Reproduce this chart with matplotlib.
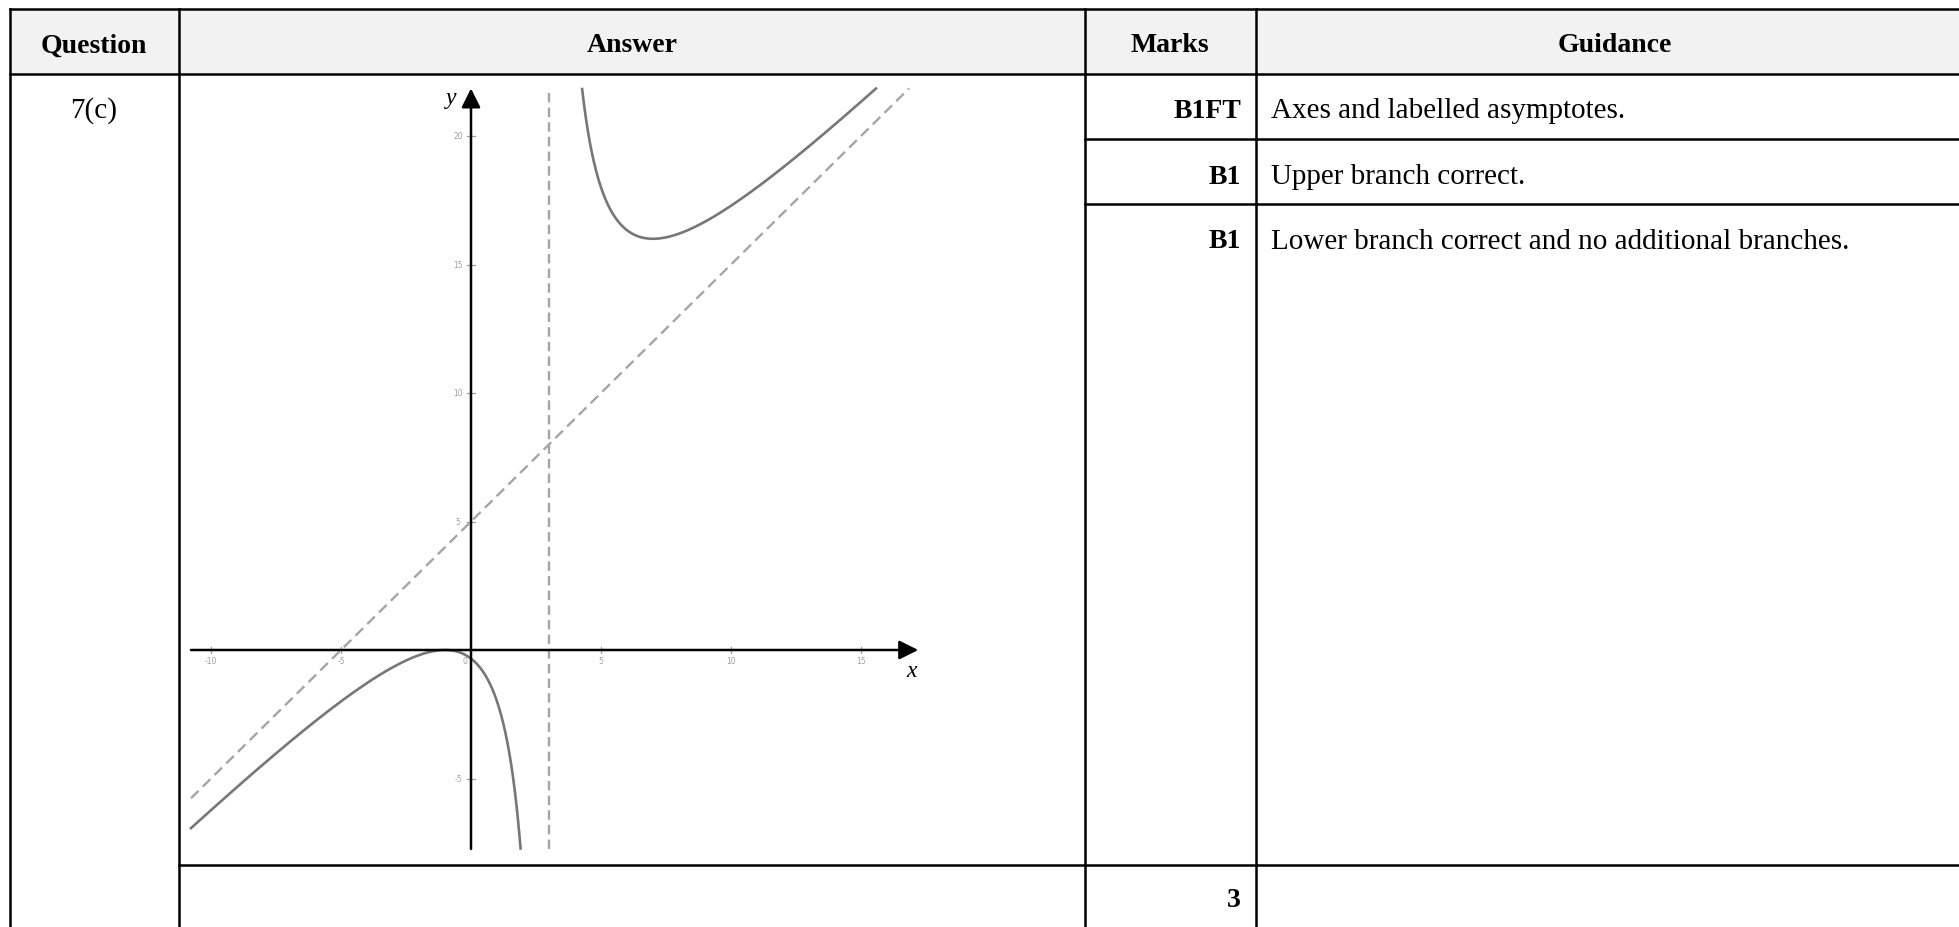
import numpy as np
import matplotlib
matplotlib.use("Agg")
import matplotlib.pyplot as plt

# ---- data ----
headers = ["Question", "Answer", "Marks", "Guidance"]
question = "7(c)"
marks = ["B1FT", "B1", "B1"]
guidance = ["Axes and labelled asymptotes.",
            "Upper branch correct.",
            "Lower branch correct and no additional branches."]
total_marks = "3"

# graph: y = m*x + c + k/(x - a)
vert_asym = 3.0
obl_slope = 1.0
obl_icpt = 5.0
k_const = 16.0
x_ticks = [-10, -5, 5, 10, 15]
y_ticks = [-5, 5, 10, 15, 20]
x_lo, x_hi = -10.77, 17.2
y_lo, y_hi = -7.74, 21.85

W, H = 1959, 928
fig = plt.figure(figsize=(W / 100, H / 100), dpi=100)
serif = ["Liberation Serif", "DejaVu Serif"]

# ---- table (pixel coordinates) ----
tab = fig.add_axes([0, 0, 1, 1])
tab.set_xlim(0, W)
tab.set_ylim(H, 0)
tab.axis("off")
cols = [10, 179, 1085, 1256]
top, hdr_bot = 10, 75
tab.fill_between([10, W], top, hdr_bot, color="#f2f2f2", zorder=0)
lw = 1.8
tab.plot([10, W], [top, top], color="black", lw=lw)
tab.plot([10, W], [hdr_bot, hdr_bot], color="black", lw=lw)
for yy in (140, 205):
    tab.plot([cols[2], W], [yy, yy], color="black", lw=lw)
tab.plot([cols[1], W], [866, 866], color="black", lw=lw)
for xx in cols:
    tab.plot([xx, xx], [top, H], color="black", lw=lw)

hdr_x = [94, 632, 1170, 1615]
for hx, h in zip(hdr_x, headers):
    tab.text(hx, 46, h, ha="center", va="center", fontsize=20,
             fontweight="bold", family=serif)
tab.text(94, 111, question, ha="center", va="center", fontsize=21, family=serif)
row_y = [111, 177, 242]
for ry, m, g in zip(row_y, marks, guidance):
    tab.text(1241, ry, m, ha="right", va="center", fontsize=20,
             fontweight="bold", family=serif)
    tab.text(1271, ry, g, ha="left", va="center", fontsize=21, family=serif)
tab.text(1241, 901, total_marks, ha="right", va="center", fontsize=20,
         fontweight="bold", family=serif)

# ---- graph ----
px_x0, px_unit_x = 471, 26.0
px_y0, px_unit_y = 651, 25.7
xl = (-11.0, 17.5)
yl = (-8.0, 22.5)
left = px_x0 + xl[0] * px_unit_x
right = px_x0 + xl[1] * px_unit_x
ptop = px_y0 - yl[1] * px_unit_y
pbot = px_y0 - yl[0] * px_unit_y
ax = fig.add_axes([left / W, 1 - pbot / H, (right - left) / W, (pbot - ptop) / H])
ax.set_xlim(*xl)
ax.set_ylim(*yl)
ax.axis("off")
ax.patch.set_alpha(0)

def f(x):
    return obl_slope * x + obl_icpt + k_const / (x - vert_asym)

curve_col = "#777777"
dash_col = "#a5a5a5"
# lower branch
xs = np.linspace(x_lo, vert_asym - 0.001, 3000)
ys = f(xs)
m = ys >= y_lo
ax.plot(xs[m], ys[m], color=curve_col, lw=1.9, zorder=3)
# upper branch
xs = np.linspace(vert_asym + 0.001, x_hi, 3000)
ys = f(xs)
m = ys <= y_hi
ax.plot(xs[m], ys[m], color=curve_col, lw=1.9, zorder=3)
# asymptotes
ax.plot([vert_asym, vert_asym], [y_lo, y_hi], color=dash_col, lw=1.7,
        dashes=(4, 2.2), zorder=2)
ox = np.array([x_lo, (y_hi - obl_icpt) / obl_slope])
ax.plot(ox, obl_slope * ox + obl_icpt, color=dash_col, lw=1.7,
        dashes=(4.5, 2.5), zorder=2)

# axes with arrows
astyle = "-|>,head_length=0.72,head_width=0.36"
ax.annotate("", xy=(x_hi, 0), xytext=(x_lo, 0),
            arrowprops=dict(arrowstyle=astyle, mutation_scale=16,
                            lw=1.8, color="black", shrinkA=0, shrinkB=0),
            zorder=4)
ax.annotate("", xy=(0, y_hi), xytext=(0, y_lo),
            arrowprops=dict(arrowstyle=astyle, mutation_scale=16,
                            lw=1.8, color="black", shrinkA=0, shrinkB=0),
            zorder=4)
ax.text(x_hi - 0.25, -0.8, "x", fontsize=17, style="italic", family=serif,
        ha="center", va="center")
ax.text(-0.75, y_hi - 0.35, "y", fontsize=17, style="italic", family=serif,
        ha="center", va="center")

tick_col = "#a0a0a0"
for t in x_ticks:
    ax.plot([t, t], [-0.12, 0.12], color=tick_col, lw=0.9)
    ax.text(t, -0.42, str(t), fontsize=5.5, color=tick_col, ha="center", va="center")
for t in y_ticks:
    ax.plot([-0.15, 0.15], [t, t], color=tick_col, lw=0.9)
    ax.text(-0.5, t, str(t), fontsize=5.5, color=tick_col, ha="center", va="center")
ax.text(-0.25, -0.42, "0", fontsize=5.5, color=tick_col, ha="center", va="center")

fig.savefig("out.png", dpi=100)
